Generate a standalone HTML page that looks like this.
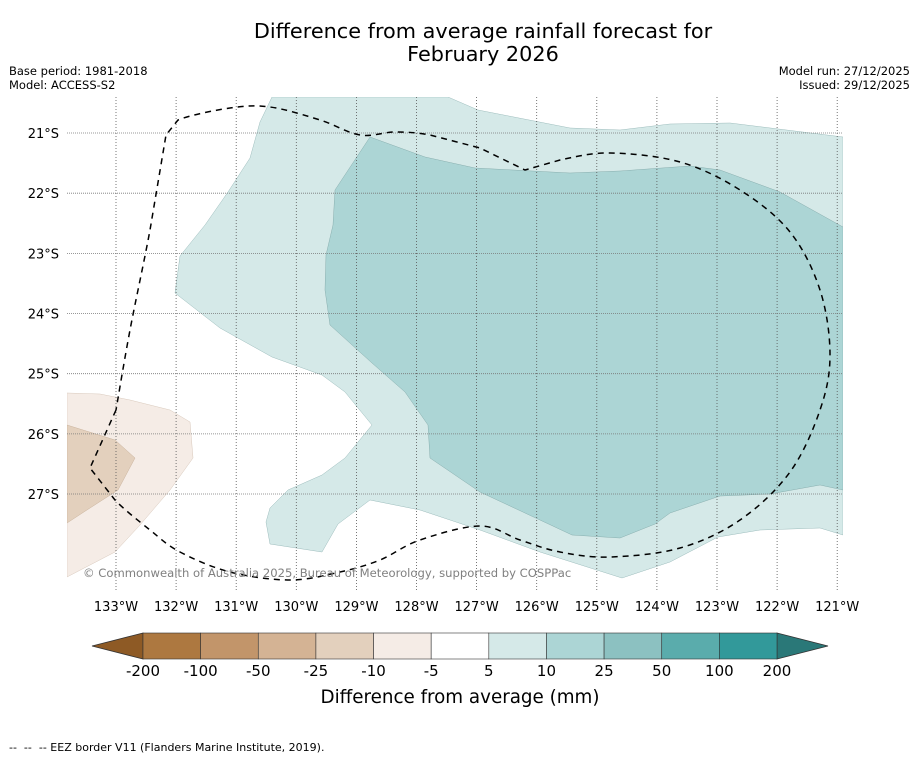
<!DOCTYPE html>
<html><head><meta charset="utf-8"><style>
body{margin:0;background:#fff;font-family:"DejaVu Sans","Liberation Sans",sans-serif;}
svg text{font-family:"DejaVu Sans","Liberation Sans",sans-serif;}
</style></head><body>
<svg id="c" width="919" height="758" xmlns="http://www.w3.org/2000/svg">
<text x="483" y="38" font-size="20.8" text-anchor="middle">Difference from average rainfall forecast for</text>
<text x="483" y="61" font-size="20.8" text-anchor="middle">February 2026</text>
<text x="9" y="75" font-size="11.5">Base period: 1981-2018</text>
<text x="9" y="89" font-size="11.5">Model: ACCESS-S2</text>
<text x="910" y="75" font-size="11.5" text-anchor="end">Model run: 27/12/2025</text>
<text x="910" y="89" font-size="11.5" text-anchor="end">Issued: 29/12/2025</text>
<defs><clipPath id="mc"><rect x="67" y="97" width="776" height="493"/></clipPath></defs>
<g clip-path="url(#mc)">
<polygon fill="#d5e9e8" stroke="#9cbcbc" stroke-width="0.5" points="272,97 448,97 478,110 570,128 620,130 670,124 730,123 843,137 843,535 820,528 760,530 718,537 670,562 622,578 540,552 480,530 420,510 370,500 338,524 322,552 270,544 266,522 270,508 288,490 322,475 345,458 372,425 345,392 322,375 272,357 220,328 175,293 180,256 205,225 228,192 250,158 260,122"/>
<polygon fill="#acd5d5" stroke="#88aeae" stroke-width="0.5" points="370,137 425,157 475,168 570,173 620,171 690,166 720,170 780,192 843,227 843,490 820,485 770,494 720,496 670,513 655,524 620,538 572,535 540,520 480,492 430,458 428,425 405,392 372,363 330,325 325,290 326,255 333,225 335,190"/>
<polygon fill="#f5ece6" stroke="#d8c8bb" stroke-width="0.5" points="67,393 100,394 130,400 170,410 190,422 193,458 170,490 140,525 115,552 90,565 67,577"/>
<polygon fill="#e3d0bd" stroke="#c9b29c" stroke-width="0.5" points="67,425 115,440 135,458 118,490 90,508 67,523"/>
<g id="grid"></g>
<path id="eez" fill="none" stroke="#000" stroke-width="1.5" stroke-dasharray="6,5"/>
</g>
<text x="83" y="577" font-size="11.6" fill="#808080">© Commonwealth of Australia 2025, Bureau of Meteorology, supported by COSPPac</text>
<g id="axes"></g>
<g id="cbar"></g>
<text x="460" y="703" font-size="18.3" text-anchor="middle">Difference from average (mm)</text>
<text x="9" y="751" font-size="11" xml:space="preserve" style="white-space:pre">--  --  -- EEZ border V11 (Flanders Marine Institute, 2019).</text>
</svg>
<script>
const lons=[133,132,131,130,129,128,127,126,125,124,123,122,121];
const lats=[21,22,23,24,25,26,27];
const binLabels=["-200","-100","-50","-25","-10","-5","5","10","25","50","100","200"];
const binColors=["#ad7840","#c2956a","#d4b394","#e3d0bd","#f5ece6","#ffffff","#d5e9e8","#acd5d5","#8cc1c1","#5aacac","#32999a"];
const NS="http://www.w3.org/2000/svg";
function xLon(l){return 116+(133-l)*60.1;}
function yLat(l){return 133+(l-21)*60.17;}
function mk(t,a,p){const e=document.createElementNS(NS,t);for(const k in a)e.setAttribute(k,a[k]);p.appendChild(e);return e;}
const grid=document.getElementById('grid'),axes=document.getElementById('axes'),cb=document.getElementById('cbar');
// smooth EEZ path
const ez=[[116,410],[90,468],[115,500],[150,530],[180,552],[230,572],[290,580],[340,572],[380,560],[420,540],[480,526],[520,540],[560,552],[610,557],[680,548],[740,520],[790,472],[820,410],[830,355],[820,290],[790,232],[740,190],[680,162],[610,153],[560,160],[525,170],[480,148],[430,135],[395,132],[360,135],[320,120],[270,107],[230,108],[178,120],[166,135],[150,230],[130,330],[116,410]];
let d='M'+ez[0][0]+','+ez[0][1];
for(let i=0;i<ez.length-1;i++){const p0=ez[Math.max(0,i-1)],p1=ez[i],p2=ez[i+1],p3=ez[Math.min(ez.length-1,i+2)];
const s=(i===0||[1,24,25,26,33,34].includes(i))?0:1/6;
d+=` C${p1[0]+(p2[0]-p0[0])*s},${p1[1]+(p2[1]-p0[1])*s} ${p2[0]-(p3[0]-p1[0])*s},${p2[1]-(p3[1]-p1[1])*s} ${p2[0]},${p2[1]}`;}
document.getElementById('eez').setAttribute('d',d);
lons.forEach(l=>{const x=xLon(l);
const g=mk('line',{x1:x,x2:x,y1:97,y2:590,stroke:'#555','stroke-width':0.8,'stroke-dasharray':'1,2'},grid);


const t=mk('text',{x:x,y:611,'font-size':13,'text-anchor':'middle'},axes);t.textContent=l+'°W';

});
lats.forEach(l=>{const y=yLat(l);
const g=mk('line',{x1:67,x2:843,y1:y,y2:y,stroke:'#777','stroke-width':0.8,'stroke-dasharray':'1,1'},grid);


const t=mk('text',{x:59,y:y+5,'font-size':13,'text-anchor':'end'},axes);t.textContent=l+'°S';

});
const cx0=143,cx1=777,cy=633,ch=26,bw=(cx1-cx0)/binColors.length;
const lt=mk('polygon',{points:`92,${cy+ch/2} ${cx0},${cy} ${cx0},${cy+ch}`,fill:'#8e5a25',stroke:'#333','stroke-width':0.8},cb);


const rt=mk('polygon',{points:`828,${cy+ch/2} ${cx1},${cy} ${cx1},${cy+ch}`,fill:'#2a7878',stroke:'#333','stroke-width':0.8},cb);


binColors.forEach((c,i)=>{const r=mk('rect',{x:cx0+i*bw,y:cy,width:bw,height:ch,fill:c,stroke:'#333','stroke-width':0.6},cb);

});
binLabels.forEach((s,i)=>{const t=mk('text',{x:cx0+i*bw,y:676,'font-size':15,'text-anchor':'middle'},cb);t.textContent=s;

});
</script>
</body></html>
